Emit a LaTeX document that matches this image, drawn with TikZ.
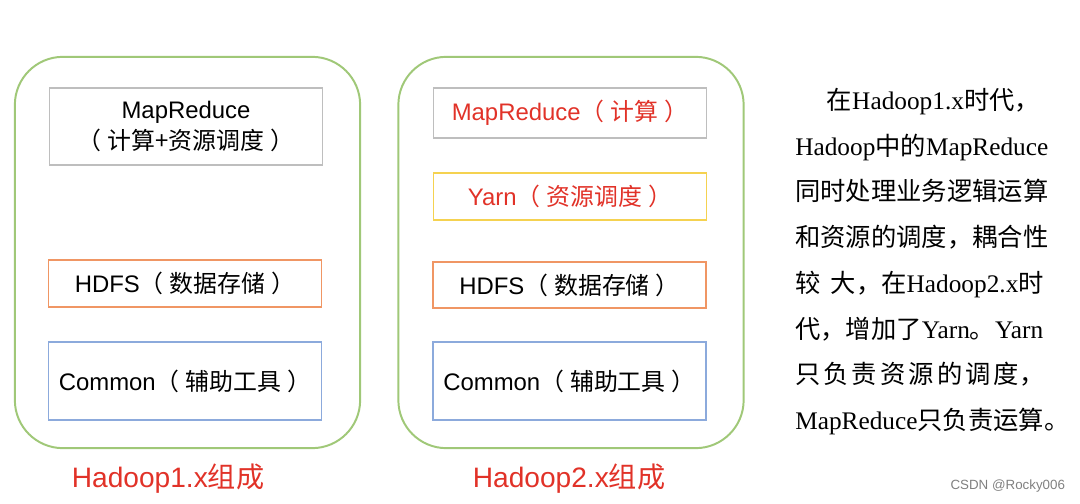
\documentclass[tikz,border=0pt]{standalone}
\usepackage{fontspec}
\setmainfont{Liberation Serif}
\setsansfont{Liberation Sans}
\newfontfamily\cjk{Noto Sans CJK SC}
\newcommand{\zh}[1]{{\cjk #1}}
\newcommand{\zhpar}[1]{\zh{（\hspace{0.25em}#1\hspace{0.25em}）}}
\usetikzlibrary{positioning}
\definecolor{frameGreen}{RGB}{160,200,120}
\definecolor{lineGray}{RGB}{190,190,190}
\definecolor{lineOrange}{RGB}{240,150,100}
\definecolor{lineBlue}{RGB}{140,170,220}
\definecolor{lineYellow}{RGB}{245,210,80}
\definecolor{textRed}{RGB}{225,50,40}
\tikzset{
    frame/.style = {
        draw=frameGreen,
        line width=1.4pt,
        rounded corners=1.2cm,
        minimum width=8.63cm,
        minimum height=9.78cm
    },
    layer/.style = {
        draw=#1,
        line width=1pt,
        minimum width=6.82cm,
        align=center,
        inner sep=0pt,
        font=\sffamily\fontsize{17}{22}\selectfont
    },
    caption/.style = {
        text=textRed,
        font=\sffamily\fontsize{20}{24}\selectfont
    }
}

\begin{document}
\begin{tikzpicture}[x=0.025cm, y=-0.025cm]
    \useasboundingbox (0,0) rectangle (1080,504);

    % Hadoop 1.x
    \node[frame] (v1) at (187.5,252.5) {};
    \node[layer=lineGray, minimum height=1.93cm] (mr1) at (186,126.5)
        {MapReduce\\\zhpar{计算+资源调度}};
    \node[layer=lineOrange, minimum height=1.18cm] (hdfs1) at (185,283.5)
        {HDFS\zhpar{数据存储}};
    \node[layer=lineBlue, minimum height=1.95cm] (common1) at (185,381)
        {Common\zhpar{辅助工具}};
    \node[caption] (cap1) at (168,479) {Hadoop1.x\zh{组成}};

    % Hadoop 2.x
    \node[frame] (v2) at (571,252.5) {};
    \node[layer=lineGray, minimum height=1.25cm, text=textRed] (mr2) at (570,113)
        {MapReduce\zhpar{计算}};
    \node[layer=lineYellow, minimum height=1.18cm, text=textRed] (yarn2) at (570,196.5)
        {Yarn\zhpar{资源调度}};
    \node[layer=lineOrange, minimum height=1.15cm] (hdfs2) at (569.5,285)
        {HDFS\zhpar{数据存储}};
    \node[layer=lineBlue, minimum height=1.95cm] (common2) at (569.5,381)
        {Common\zhpar{辅助工具}};
    \node[caption] (cap2) at (569,479) {Hadoop2.x\zh{组成}};

    % Explanation
    \node[anchor=north west, align=left, inner sep=0pt,
          font=\fontsize{18}{32.5}\selectfont] (note) at (795,88) {%
        \hspace*{1.25em}\zh{在}Hadoop1.x\zh{时代，}\\
        Hadoop\zh{中的}MapReduce\\
        \zh{同时处理业务逻辑运算}\\
        \zh{和资源的调度，耦合性}\\
        \zh{较\hspace{0.4em}大，在}Hadoop2.x\zh{时}\\
        \zh{代，增加了}Yarn\zh{。}Yarn\\
        \zh{只\hspace{0.12em}负\hspace{0.12em}责\hspace{0.12em}资\hspace{0.12em}源\hspace{0.12em}的\hspace{0.12em}调\hspace{0.12em}度，}\\
        MapReduce\zh{只负责运算。}};

    % Watermark
    \node[anchor=south east, text=gray, font=\sffamily\fontsize{9.5}{11}\selectfont] (mark) at (1070,497) {CSDN @Rocky006};
\end{tikzpicture}
\end{document}
